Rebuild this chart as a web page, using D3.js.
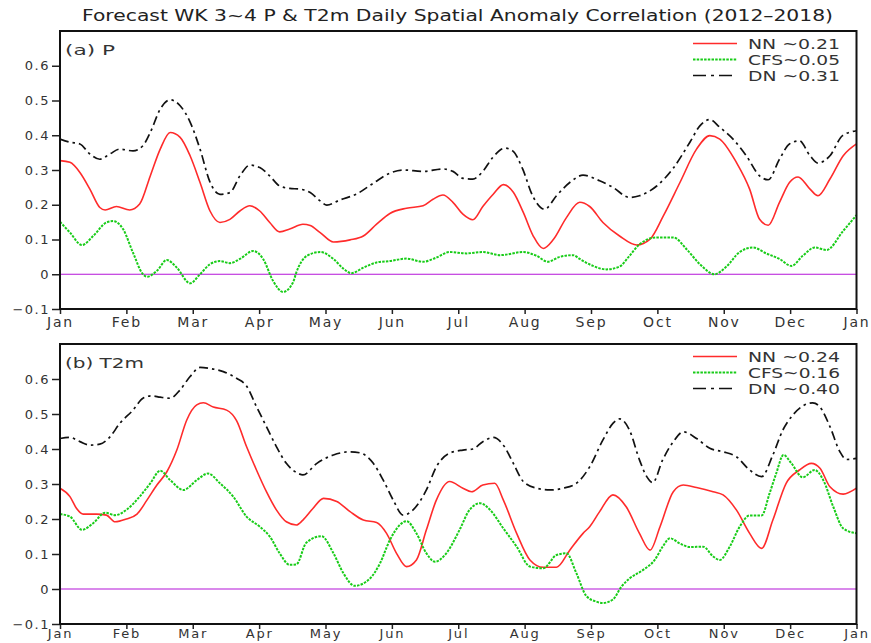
<!DOCTYPE html>
<html>
<head>
<meta charset="utf-8">
<script src="https://cdn.jsdelivr.net/npm/d3@7"></script>
<style>
  body { margin: 0; background: #fff; }
  svg { display: block; font-family: "DejaVu Sans", sans-serif; }
</style>
</head>
<body>
<svg id="chart" width="871" height="643"></svg>
<script>
const title = "Forecast WK 3~4 P & T2m Daily Spatial Anomaly Correlation (2012\u20132018)";
const months = ["Jan", "Feb", "Mar", "Apr", "May", "Jun", "Jul", "Aug", "Sep", "Oct", "Nov", "Dec", "Jan"];
const yTicks = [-0.1, 0, 0.1, 0.2, 0.3, 0.4, 0.5, 0.6];
const legendP = ["NN ~0.21", "CFS~0.05", "DN ~0.31"];
const legendT = ["NN ~0.24", "CFS~0.16", "DN ~0.40"];

// [position in months from Jan 1, correlation]
const pNN = [[0,.327],[.15,.322],[.3,.293],[.45,.245],[.6,.192],[.68,.185],[.85,.195],[1.05,.185],[1.2,.202],[1.36,.283],[1.51,.36],[1.66,.408],[1.81,.394],[1.96,.341],[2.11,.264],[2.26,.182],[2.41,.149],[2.56,.158],[2.71,.182],[2.86,.197],[3.01,.182],[3.16,.149],[3.31,.122],[3.46,.13],[3.66,.144],[3.77,.14],[3.92,.12],[4.12,.093],[4.37,.099],[4.57,.11],[4.77,.144],[4.97,.175],[5.22,.19],[5.47,.197],[5.62,.216],[5.77,.228],[5.92,.207],[6.07,.173],[6.22,.157],[6.37,.195],[6.53,.231],[6.68,.258],[6.83,.236],[6.98,.178],[7.13,.11],[7.28,.074],[7.43,.099],[7.63,.163],[7.83,.207],[7.98,.195],[8.18,.149],[8.43,.11],[8.69,.084],[8.89,.101],[9.09,.168],[9.34,.264],[9.59,.36],[9.79,.399],[9.94,.389],[10.19,.322],[10.39,.245],[10.54,.158],[10.67,.141],[10.84,.207],[10.99,.264],[11.12,.28],[11.3,.245],[11.42,.226],[11.6,.274],[11.8,.341],[12,.375]];
const pCFS = [[0,.151],[.15,.12],[.33,.084],[.5,.11],[.7,.149],[.8,.153],[.95,.13],[1.1,.062],[1.25,0],[1.31,-.007],[1.46,.01],[1.61,.041],[1.76,.019],[1.96,-.026],[2.11,0],[2.26,.029],[2.41,.038],[2.56,.032],[2.71,.044],[2.91,.067],[3.06,.044],[3.21,-.019],[3.36,-.051],[3.51,-.024],[3.56,.005],[3.72,.053],[3.92,.064],[4.12,.044],[4.27,.016],[4.39,.003],[4.57,.019],[4.77,.034],[4.97,.038],[5.22,.045],[5.47,.036],[5.67,.048],[5.87,.064],[6.12,.06],[6.37,.064],[6.63,.055],[6.98,.064],[7.18,.053],[7.35,.036],[7.53,.05],[7.73,.055],[7.83,.044],[8.03,.024],[8.23,.014],[8.43,.022],[8.58,.053],[8.73,.086],[8.99,.106],[9.24,.106],[9.44,.072],[9.64,.029],[9.86,0],[10.04,.022],[10.24,.064],[10.44,.077],[10.64,.06],[10.84,.044],[11.02,.024],[11.19,.053],[11.37,.077],[11.55,.07],[11.8,.125],[12,.17]];
const pDN = [[0,.389],[.15,.38],[.3,.375],[.45,.346],[.6,.331],[.75,.346],[.9,.36],[1.1,.355],[1.25,.37],[1.36,.408],[1.51,.475],[1.66,.502],[1.81,.485],[1.96,.438],[2.11,.36],[2.26,.265],[2.41,.23],[2.56,.235],[2.71,.283],[2.86,.314],[3.01,.307],[3.16,.283],[3.31,.254],[3.46,.247],[3.61,.245],[3.77,.235],[3.92,.211],[4.02,.199],[4.22,.214],[4.47,.231],[4.72,.262],[4.97,.291],[5.17,.3],[5.47,.296],[5.77,.303],[5.92,.296],[6.07,.276],[6.22,.274],[6.37,.296],[6.52,.336],[6.7,.363],[6.82,.355],[6.97,.303],[7.12,.226],[7.3,.187],[7.48,.226],[7.68,.264],[7.88,.285],[8.13,.269],[8.33,.25],[8.58,.221],[8.73,.226],[8.99,.254],[9.23,.303],[9.49,.38],[9.64,.427],[9.79,.445],[9.94,.423],[10.14,.389],[10.34,.341],[10.54,.283],[10.67,.272],[10.84,.331],[10.99,.375],[11.14,.384],[11.3,.341],[11.42,.32],[11.6,.341],[11.79,.399],[12,.413]];

const tNN = [[0,.288],[.15,.264],[.25,.23],[.35,.214],[.55,.214],[.7,.211],[.83,.192],[1,.2],[1.16,.214],[1.31,.254],[1.46,.297],[1.61,.335],[1.76,.397],[1.91,.483],[2.06,.526],[2.16,.532],[2.31,.52],[2.51,.511],[2.66,.481],[2.81,.407],[2.96,.34],[3.11,.278],[3.26,.226],[3.41,.192],[3.56,.183],[3.66,.197],[3.81,.23],[3.97,.259],[4.17,.25],[4.37,.221],[4.57,.197],[4.77,.19],[4.92,.159],[5.07,.102],[5.22,.064],[5.37,.083],[5.52,.169],[5.67,.254],[5.87,.307],[6.07,.288],[6.2,.278],[6.37,.297],[6.55,.302],[6.68,.254],[6.88,.159],[7.08,.083],[7.28,.062],[7.48,.062],[7.68,.111],[7.88,.159],[7.98,.178],[8.13,.221],[8.33,.269],[8.53,.235],[8.73,.159],[8.89,.111],[9.04,.178],[9.24,.278],[9.39,.297],[9.59,.29],[9.84,.278],[9.99,.269],[10.19,.226],[10.39,.159],[10.57,.116],[10.74,.197],[10.94,.302],[11.14,.34],[11.32,.359],[11.45,.345],[11.6,.292],[11.8,.271],[12,.288]];
const tCFS = [[0,.214],[.15,.207],[.33,.169],[.5,.188],[.68,.218],[.83,.211],[1,.226],[1.2,.264],[1.36,.302],[1.51,.338],[1.66,.311],[1.86,.283],[2.06,.311],[2.23,.33],[2.41,.302],[2.61,.264],[2.81,.207],[3.01,.178],[3.16,.15],[3.31,.102],[3.46,.069],[3.56,.07],[3.71,.132],[3.94,.151],[4.12,.102],[4.27,.045],[4.44,.009],[4.67,.03],[4.82,.073],[4.97,.14],[5.12,.183],[5.22,.194],[5.37,.159],[5.52,.102],[5.65,.078],[5.82,.102],[6.02,.169],[6.17,.226],[6.33,.245],[6.48,.226],[6.68,.173],[6.88,.121],[7.08,.064],[7.28,.059],[7.48,.097],[7.63,.102],[7.78,.045],[7.93,-.02],[8.08,-.036],[8.18,-.04],[8.33,-.03],[8.46,.007],[8.58,.03],[8.78,.054],[8.96,.083],[9.08,.121],[9.19,.145],[9.34,.13],[9.49,.12],[9.69,.121],[9.84,.093],[9.94,.083],[10.09,.121],[10.24,.178],[10.39,.21],[10.57,.21],[10.69,.273],[10.79,.33],[10.9,.383],[11.02,.359],[11.19,.319],[11.37,.34],[11.5,.311],[11.65,.235],[11.8,.173],[12,.159]];
const tDN = [[0,.43],[.15,.433],[.3,.421],[.45,.411],[.6,.414],[.75,.434],[.9,.473],[1.1,.511],[1.25,.545],[1.38,.552],[1.51,.548],[1.66,.545],[1.81,.569],[1.96,.607],[2.11,.633],[2.26,.63],[2.46,.621],[2.66,.602],[2.81,.58],[2.96,.521],[3.11,.464],[3.26,.407],[3.41,.359],[3.59,.33],[3.66,.326],[3.87,.359],[4.12,.383],[4.37,.392],[4.52,.389],[4.72,.359],[4.87,.311],[5.02,.254],[5.17,.211],[5.32,.226],[5.52,.283],[5.67,.349],[5.87,.388],[6.07,.397],[6.22,.4],[6.37,.421],[6.53,.433],[6.68,.411],[6.83,.359],[6.98,.307],[7.18,.288],[7.38,.283],[7.58,.288],[7.78,.302],[7.98,.349],[8.18,.426],[8.33,.473],[8.43,.486],[8.58,.454],[8.73,.369],[8.84,.321],[8.93,.304],[9.08,.369],[9.24,.421],[9.39,.449],[9.59,.43],[9.79,.402],[9.99,.392],[10.19,.378],[10.39,.34],[10.57,.321],[10.74,.383],[10.89,.454],[11.04,.497],[11.19,.523],[11.34,.532],[11.45,.52],[11.6,.464],[11.75,.392],[11.85,.37],[12,.373]];

const svg = d3.select("#chart");
const left = 60, right = 856.5;
const x = d3.scaleLinear().domain([0, 12]).range([left, right]);

const styles = [
  { color: "#ff2b2b", width: 1.6, dash: null },
  { color: "#18cc18", width: 2, dash: "2.5,1.2" },
  { color: "#111", width: 1.7, dash: "9,4,2.5,4" }
];

svg.append("text")
  .attr("x", 82).attr("y", 21)
  .attr("textLength", 751).attr("lengthAdjust", "spacingAndGlyphs")
  .attr("font-size", 15).attr("fill", "#222")
  .text(title);

const panels = [
  { label: "(a) P", labelW: 50, top: 31, bottom: 309, pad: 3, fs: 14, series: [pNN, pCFS, pDN], legend: legendP },
  { label: "(b) T2m", labelW: 79, top: 344, bottom: 624, pad: 0, fs: 13, series: [tNN, tCFS, tDN], legend: legendT }
];

panels.forEach(p => {
  const y = d3.scaleLinear().domain([-0.1, 0.7]).range([p.bottom, p.top]);
  const g = svg.append("g");

  // zero line
  g.append("line")
    .attr("x1", left).attr("x2", right)
    .attr("y1", y(0)).attr("y2", y(0))
    .attr("stroke", "#b414d8").attr("stroke-width", 1.2);

  const line = d3.line()
    .x(d => x(d[0]))
    .y(d => y(d[1]))
    .curve(d3.curveMonotoneX);

  p.series.forEach((s, i) => {
    g.append("path")
      .datum(s)
      .attr("d", line)
      .attr("fill", "none")
      .attr("stroke", styles[i].color)
      .attr("stroke-width", styles[i].width)
      .attr("stroke-dasharray", styles[i].dash);
  });

  // axes
  const yAxis = d3.axisLeft(y).tickValues(yTicks).tickSize(8).tickPadding(2)
    .tickFormat(d => d === 0 ? "0" : d3.format(".1f")(d).replace("-", "\u2212"));
  const xAxis = d3.axisBottom(x).tickValues(d3.range(13)).tickSize(5).tickPadding(p.pad)
    .tickFormat(i => months[i]);

  g.append("g")
    .attr("transform", `translate(${left},0)`)
    .call(yAxis)
    .call(a => a.select(".domain").remove())
    .call(a => a.selectAll("line").attr("stroke", "#222").attr("stroke-width", 1.5))
    .call(a => a.selectAll("text")
      .attr("font-size", 13).attr("fill", "#333")
      .attr("font-family", "DejaVu Sans")
      .style("letter-spacing", "1.5px"));

  g.append("g")
    .attr("transform", `translate(0,${p.bottom})`)
    .call(xAxis)
    .call(a => a.select(".domain").remove())
    .call(a => a.selectAll("line").attr("stroke", "#222").attr("stroke-width", 1.5))
    .call(a => a.selectAll("text")
      .attr("font-size", p.fs).attr("fill", "#333")
      .attr("font-family", "DejaVu Sans")
      .style("letter-spacing", "1.8px"));

  // frame
  g.append("rect")
    .attr("x", left).attr("y", p.top)
    .attr("width", right - left).attr("height", p.bottom - p.top)
    .attr("fill", "none").attr("stroke", "#111").attr("stroke-width", 2);

  g.append("text")
    .attr("x", 65).attr("y", p.top + 24)
    .attr("textLength", p.labelW).attr("lengthAdjust", "spacingAndGlyphs")
    .attr("font-size", 14).attr("fill", "#333")
    .text(p.label);

  // legend
  p.legend.forEach((t, i) => {
    const ly = p.top + 12.5 + i * 16;
    g.append("line")
      .attr("x1", 693).attr("x2", 737)
      .attr("y1", ly).attr("y2", ly)
      .attr("stroke", styles[i].color)
      .attr("stroke-width", styles[i].width)
      .attr("stroke-dasharray", i === 2 ? "13,5,3,5" : styles[i].dash);
    g.append("text")
      .attr("x", 748).attr("y", ly + 5)
      .attr("textLength", 92).attr("lengthAdjust", "spacingAndGlyphs")
      .attr("font-size", 14).attr("fill", "#333")
      .text(t);
  });
});
</script>
</body>
</html>
